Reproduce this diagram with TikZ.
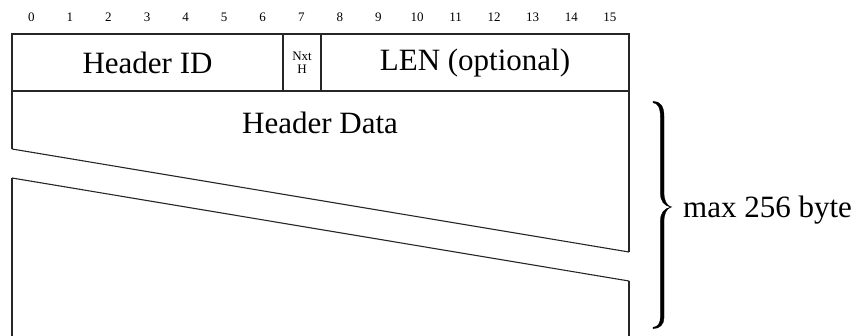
\documentclass[tikz,border=0pt]{standalone}
\usepackage{fontspec}
\setmainfont{Liberation Serif}
\begin{document}
\begin{tikzpicture}[x=1pt,y=-1pt,
  frame/.style={line width=1.4pt,color=black!85},
  cut/.style={line width=1.1pt,color=black!85},
  bracefill/.style={fill=black,draw=black,line width=0.3pt},
  big/.style={font=\fontsize{31}{36}\selectfont,inner sep=0pt},
  bitnum/.style={font=\fontsize{13}{15}\selectfont,inner sep=0pt},
  small/.style={font=\fontsize{13}{13}\selectfont,align=center,inner sep=0pt}]
\useasboundingbox (0,0) rectangle (860,336);
% bit numbers
\foreach \i in {0,...,15} {
  \node[bitnum] (b\i) at ({31.3+38.57*\i},17) {\i};
}
% header row
\coordinate (tl) at (12,34);
\coordinate (tr) at (629,34);
\coordinate (hl) at (12,91);
\coordinate (hr) at (629,91);
\draw[frame] (tl) rectangle (hr);
\draw[frame] (283,34) -- (283,91);
\draw[frame] (321,34) -- (321,91);
\node[big] (hid) at (147.5,63) {Header ID};
\node[small] (nxt) at (302,63) {Nxt\\H};
\node[big] (len) at (475,63) {LEN (optional)};
% data region
\coordinate (c1l) at (12,149);
\coordinate (c1r) at (629,252);
\coordinate (c2l) at (12,178);
\coordinate (c2r) at (629,281);
\coordinate (bl) at (12,337);
\coordinate (br) at (629,337);
\draw[frame] (hl) -- (c1l);
\draw[frame] (hr) -- (c1r);
\draw[cut] (c1l) -- (c1r);
\draw[cut] (c2l) -- (c2r);
\draw[frame] (c2l) -- (bl);
\draw[frame] (c2r) -- (br);
\node[big] (hdata) at (320,123) {Header Data};
% brace (tapered)
\path[bracefill] (653,101.3) .. controls (660,101.3) and (664,106) .. (664,116)
  -- (664,192) .. controls (664,200) and (666,205) .. (671,207)
  .. controls (664,206) and (660.4,201) .. (660.4,193)
  -- (660.4,117) .. controls (660.4,108) and (658,103) .. (653,102.7) -- cycle;
\path[bracefill] (671,207) .. controls (666,209) and (664,214) .. (664,222)
  -- (664,318) .. controls (664,324) and (660,328.7) .. (653,328.7)
  -- (653,327.3) .. controls (658,327) and (660.4,323) .. (660.4,317)
  -- (660.4,221) .. controls (660.4,213) and (664,208.5) .. (671,207) -- cycle;
\node[big,anchor=west] (max) at (683,210) {max 256 byte};
\end{tikzpicture}
\end{document}
